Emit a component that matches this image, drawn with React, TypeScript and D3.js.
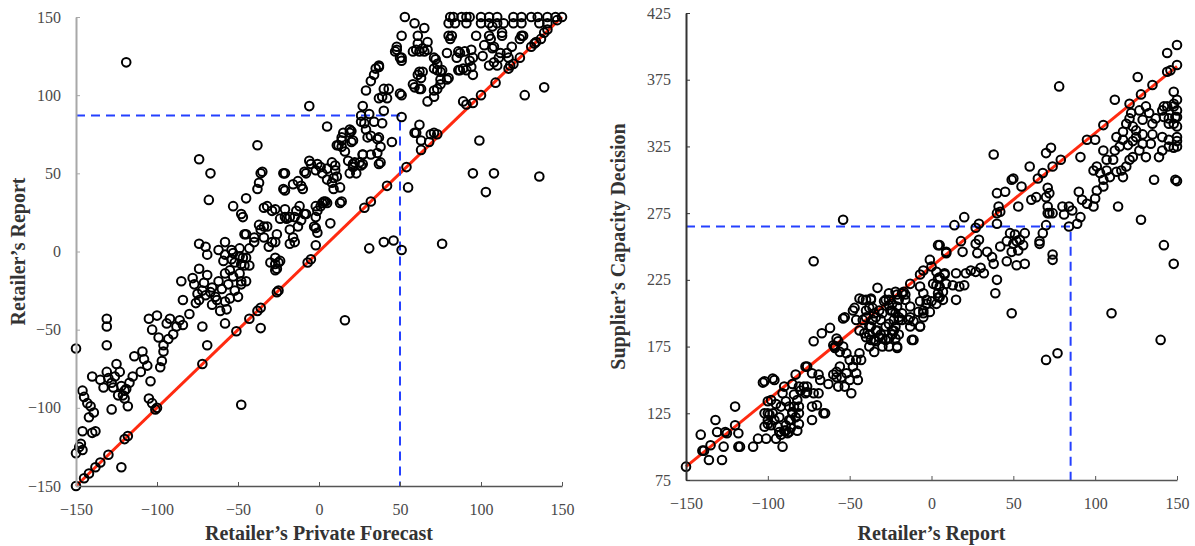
import React, { useEffect, useRef } from "react";
import * as d3 from "d3";

type Pt = [number, number];

// left panel: retailer's private forecast (x) vs retailer's report (y)
const forecastVsReport: Pt[] = [
  [-150, -62], [-150, -150], [-146, -89], [-145, -93], [-143, -97], [-146, -115], [-147, -123], [-146, -127],
  [-150, -129], [-148, -125], [-142, -106], [-140, -116], [-138, -115], [-141, -99], [-139, -103], [-140, -80],
  [-145, -145], [-142, -142], [-138, -138], [-135, -135], [-130, -130], [-120, -120], [-118, -118], [-101, -101],
  [-100, -100], [-72, -72], [-38, -38], [-36, -36], [-26, -26], [-43, -43], [-51, -51], [-25, -25], [-7, -7], [-5, -5],
  [-122, -138], [-131, -43], [-131, -48], [-131, -60],
  [-135, -82], [-131, -77], [-130, -81], [-128, -84], [-126, -80], [-125, -72], [-123, -77], [-122, -86], [-120, -89],
  [-120, -94], [-118, -99], [-117, -84], [-115, -80], [-128, -101], [-133, -87], [-127, -87], [-124, -92], [-121, -92],
  [-119, -88], [-114, -67], [-109, -64], [-108, -69], [-110, -77], [-106, -73], [-104, -83], [-105, -94], [-103, -97],
  [-105, -43], [-100, -41], [-103, -50], [-99, -55], [-96, -64], [-97, -70], [-98, -74], [-94, -46], [-92, -43],
  [-90, -53], [-88, -48], [-93, -56], [-96, -60], [-86, -44], [-84, -47],
  [-85, -19], [-84, -31], [-77, -21], [-74, -11], [-69, -15], [-72, -25], [-76, -33], [-80, -40], [-72, -48], [-69, -60],
  [-74, -31], [-70, -28], [-66, -23], [-62, -19], [-63, -31], [-58, -46], [-58, -14], [-56, -21], [-52, -25], [-48, -19],
  [-36, -49], [-48, -98], [-59, -6], [-54, -5], [-46, -9], [-58, -32], [-66, -34], [-78, -17], [-75, -27], [-71, -20],
  [-67, -26], [-64, -29], [-60, -24], [-61, -38], [-55, -30], [-57, -37], [-50, -29], [-45, -19], [-48, -21],
  [-49, -3], [-47, -4], [-45, -4], [-43, -9], [-55, -12], [-53, -16], [-49, -14], [-58, 6], [-54, 1], [-49, 2],
  [-27, -12], [-25, -7],
  [-119, 121], [-74, 59], [-67, 50], [-68, 33], [-38, 68], [-37, 44], [-36, 50], [-35, 51], [-38, 40], [-22, 50],
  [-22, 40], [-16, 43], [-53, 29], [-45, 34], [-48, 24], [-47, 22], [-45, 11], [-34, 28], [-29, 26], [-24, 21],
  [-20, 21], [-18, 14], [-74, 5], [-70, 3], [-69, -2], [-62, 1], [-58, -2], [-53, -1], [-52, -7], [-48, -8], [-43, 2],
  [-40, 9], [-36, 14], [-34, 9], [-31, 3], [-30, -7], [-27, -8], [-18, 5],
  [-13, 45], [-11, 42], [-10, 40], [-6, 58], [-9, 51], [-2, 52], [-1, 56], [2, 50], [5, 46], [8, 57], [10, 52], [11, 48],
  [8, 44], [9, 40], [13, 41], [11, 68], [14, 73], [20, 70], [19, 76], [14, 67], [30, 73], [37, 73], [38, 67], [32, 62],
  [27, 62], [25, 57], [21, 56], [19, 50], [38, 57],
  [28, 28], [32, 32], [42, 42], [54, 54], [63, 65], [68, 70], [73, 75],
  [40, 6], [31, 2], [46, 7], [51, 1], [76, 5], [55, 41], [99, 71], [127, 100], [139, 105], [95, 50], [108, 50],
  [136, 48], [103, 38], [16, -44],
  [-32, 29], [-27, 27], [-21, 22], [-18, 22], [-15, 22], [-14, 26], [-12, 29], [-9, 24], [-13, 16], [-2, 29], [-1, 26],
  [2, 31], [4, 32], [-3, 16], [7, 18], [13, 31], [-37, 17], [-34, 16], [-32, 16], [-46, 11], [-40, 6], [-29, 6],
  [-27, 6], [-26, 11], [-16, 9], [-15, 6], [-2, 4], [-27, -4], [-24, -6], [-26, -11],
  [-21, 50], [-21, 39], [-8, 50], [-5, 56], [1, 54], [5, 53], [18, 58], [21, 54], [26, 55], [37, 56], [23, 50], [27, 56],
  [-21, 27], [-11, 20], [-8, 24], [-2, 22], [1, 29], [5, 31], [-2, 15], [-1, 12], [14, 32], [3, 32],
  [-6, 93], [5, 80], [15, 76], [19, 78], [21, 71], [14, 71], [27, 93], [26, 87], [31, 88], [28, 82], [36, 63], [45, 70],
  [26, 83], [29, 78], [40, 90], [62, 81], [60, 76], [69, 75], [71, 76], [63, 71],
  [89, 96], [91, 94], [95, 95], [100, 100], [109, 108], [117, 117], [124, 124], [131, 131], [133, 133], [139, 140],
  [141, 142], [147, 148], [150, 150],
  [53, 150], [81, 150], [83, 150], [88, 150], [91, 150], [93, 150], [100, 150], [105, 150], [110, 150], [120, 150],
  [125, 150], [131, 150], [135, 150], [141, 150], [146, 150],
  [80, 146], [84, 146], [91, 146], [100, 146], [105, 146], [110, 146], [114, 146], [120, 146], [125, 146], [136, 146],
  [141, 146], [59, 146], [65, 143],
  [51, 138], [61, 138], [67, 134], [80, 138], [82, 138], [97, 138], [105, 138], [113, 138], [125, 138],
  [48, 131], [48, 129], [51, 124], [51, 122], [60, 129], [65, 128], [67, 129], [61, 113], [64, 115], [59, 105], [63, 104],
  [67, 96], [72, 123], [73, 116], [75, 110], [76, 116], [80, 111], [71, 103], [73, 104], [37, 119], [35, 117], [34, 113],
  [32, 109], [29, 103], [40, 104], [39, 99], [37, 98], [51, 100],
  [79, 127], [87, 127], [90, 128], [95, 124], [102, 132], [107, 130], [112, 127], [119, 131], [120, 120], [108, 121],
  [105, 119], [89, 117], [94, 118], [87, 116], [111, 124], [126, 138],
  [61, 133], [64, 130], [58, 128], [62, 128], [47, 128], [50, 124], [71, 124], [73, 120], [71, 117], [75, 115], [62, 115],
  [63, 111], [58, 107], [62, 104], [75, 107], [71, 99], [79, 110], [81, 136], [85, 124], [86, 128], [94, 129], [93, 122],
  [86, 116], [91, 116], [95, 113], [101, 125], [108, 131], [106, 136], [107, 144], [113, 140], [116, 127], [117, 124],
  [110, 119], [118, 119], [124, 136], [134, 134], [137, 136], [37, 118], [43, 104], [42, 98], [50, 101], [51, 86],
  [34, 83], [39, 82], [20, 77], [12, 68], [16, 64], [32, 74], [36, 72], [27, 62], [22, 57], [10, 55], [9, 47], [59, 76],
];

// right panel: retailer's report (x) vs supplier's capacity decision (y)
const reportVsCapacity: Pt[] = [
  [-150, 85], [-141, 109], [-140, 97], [-136, 90], [-135, 101], [-132, 120], [-131, 111], [-127, 100], [-128, 90],
  [-126, 111], [-120, 130], [-120, 116], [-118, 110], [-118, 100], [-117, 100], [-109, 100], [-106, 106], [-101, 106],
  [-103, 148], [-96, 150], [-100, 134], [-100, 125], [-100, 120], [-97, 125], [-98, 116], [-96, 120], [-94, 115],
  [-95, 106], [-91, 100], [-90, 145], [-91, 140], [-89, 134], [-87, 130], [-85, 126], [-86, 120], [-84, 139], [-82, 135],
  [-81, 130], [-83, 122], [-87, 111], [-89, 112], [-80, 142], [-78, 145], [-77, 140], [-76, 145], [-81, 117], [-82, 112],
  [-83, 154], [-77, 160], [-73, 155], [-69, 140], [-73, 120], [-70, 131], [-66, 125], [-72, 179], [-67, 185], [-62, 189],
  [-72, 239], [-63, 147], [-60, 154], [-58, 156], [-57, 145], [-49, 140], [-59, 175], [-58, 181], [-54, 196], [-48, 202],
  [-46, 195], [-42, 210], [-37, 210], [-33, 219],
  [-54, 175], [-52, 170], [-50, 165], [-48, 160], [-46, 155], [-45, 150], [-44, 170], [-43, 165], [-46, 165], [-50, 150],
  [-52, 155], [-56, 160], [-58, 152], [-55, 152], [-53, 145],
  [-40, 197], [-37, 190], [-34, 187], [-35, 180], [-31, 184], [-30, 175], [-26, 181], [-24, 187], [-22, 190], [-20, 195],
  [-18, 200], [-21, 205], [-25, 202], [-29, 209], [-26, 210], [-35, 171], [-38, 175], [-40, 182],
  [-22, 216], [-18, 215], [-16, 210], [-13, 197], [-11, 180], [-7, 209], [-5, 202], [-1, 201], [3, 207], [-5, 215],
  [4, 212], [7, 210], [5, 220], [1, 222], [4, 226], [8, 229], [-7, 220], [-18, 195], [-13, 190], [-21, 175], [-35, 200],
  [78, 370], [38, 319], [126, 377], [146, 382], [135, 371], [128, 364], [112, 360], [121, 357], [105, 341], [95, 330],
  [100, 330], [73, 324], [70, 320], [79, 315], [91, 317], [74, 310], [68, 305], [60, 310], [65, 301], [49, 300], [55, 295],
  [40, 290], [42, 276], [53, 280], [64, 287], [71, 294], [72, 290], [70, 287], [61, 285], [71, 280], [72, 275], [74, 275],
  [80, 280], [81, 274], [86, 277], [84, 280],
  [90, 291], [92, 285], [95, 282], [100, 286], [99, 280], [101, 292], [105, 300], [103, 305], [107, 307], [109, 302],
  [105, 295], [101, 310], [99, 307], [107, 315], [111, 315], [105, 322], [112, 322], [115, 325], [117, 330], [113, 332],
  [117, 336], [119, 342], [121, 346], [123, 340], [125, 337], [122, 350], [127, 352], [129, 345], [131, 355], [133, 350],
  [135, 342], [137, 346], [141, 352], [142, 347], [145, 342], [148, 355], [150, 347], [150, 340], [145, 330], [150, 329],
  [141, 322], [139, 317], [131, 317], [127, 322], [123, 317], [121, 315], [119, 310], [117, 302], [116, 307], [113, 306],
  [134, 327], [129, 327], [120, 326], [125, 332], [123, 329], [129, 334], [135, 334], [141, 332], [145, 325], [150, 332],
  [136, 300], [114, 280], [128, 270], [142, 251], [66, 252], [74, 244], [148, 237], [149, 300], [150, 299], [150, 325],
  [148, 324], [148, 366], [150, 360], [148, 357], [150, 352], [149, 347], [148, 342], [145, 346], [144, 355], [142, 355],
  [150, 401], [144, 395], [150, 386], [144, 381],
  [140, 180], [110, 200], [70, 165], [77, 170], [49, 200], [39, 215], [40, 225], [15, 210], [-12, 180], [-21, 174],
  [-22, 181], [-7, 190], [-5, 197], [-8, 201], [-3, 207], [0, 209], [5, 212], [7, 216], [9, 222], [13, 221], [17, 220],
  [20, 221], [15, 230], [21, 230], [24, 232], [27, 231], [30, 234], [32, 230], [38, 237], [46, 239], [52, 236], [57, 237],
  [74, 240],
  [20, 272], [14, 266], [27, 264], [29, 267], [40, 275], [41, 280], [45, 291], [50, 301], [5, 251], [9, 246], [18, 254],
  [19, 246], [27, 252], [29, 255], [28, 245], [34, 246], [37, 242], [42, 250], [46, 254], [48, 260], [51, 259], [50, 252],
  [52, 254], [54, 255], [56, 251], [57, 260], [53, 247], [49, 246], [66, 254], [68, 260], [70, 266], [71, 275], [91, 272],
  [89, 267], [84, 265], [40, 267],
  [-54, 270], [4, 251], [-1, 240], [-5, 232], [-7, 229], [0, 235], [3, 231], [5, 227], [8, 230], [9, 245], [3, 221],
  [4, 215], [-3, 210], [-13, 222], [-17, 216], [-21, 214], [-20, 210], [-16, 214], [-13, 205], [-14, 195], [-20, 197],
  [-24, 202], [-26, 206], [-30, 200], [-32, 202], [-34, 197], [-36, 195], [-31, 195], [-28, 190], [-26, 192], [-23, 187],
  [-20, 184], [-11, 194], [-5, 200], [-7, 190], [-26, 175], [-30, 181], [-34, 179], [-37, 180], [-38, 184], [-41, 185],
  [-44, 187], [-42, 195], [-38, 204],
  [-139, 97], [-125, 110], [-102, 149], [-97, 151], [-102, 125], [-99, 124], [-102, 115], [-100, 117], [-93, 122],
  [-92, 130], [-95, 132], [-98, 135], [-92, 109], [-90, 112], [-89, 116], [-87, 120], [-85, 125], [-84, 130], [-81, 125],
  [-86, 114], [-88, 110], [-93, 111], [-85, 147], [-81, 145], [-76, 141], [-76, 160], [-69, 154], [-68, 150], [-73, 130],
  [-65, 125], [-72, 140], [-60, 176], [-57, 179], [-56, 171], [-59, 174], [-53, 197], [-47, 204], [-44, 211], [-40, 210],
  [-37, 211], [-28, 210], [-40, 202], [-36, 204], [-38, 190], [-33, 187], [-32, 182], [-28, 180], [-24, 184], [-23, 195],
  [-22, 200], [-24, 207], [-26, 215],
];

const leftTicks = [-150, -100, -50, 0, 50, 100, 150];
const rightXTicks = [-150, -100, -50, 0, 50, 100, 150];
const rightYTicks = [75, 125, 175, 225, 275, 325, 375, 425];

// 45 degree reference lines and the dashed guides
const leftDiagonal: Pt[] = [[-150, -150], [150, 150]];
const rightDiagonal: Pt[] = [[-150, 85], [150, 385]];
const leftGuide: Pt = [50, 87];
const rightGuide: Pt = [85, 265];

const panels = [
  {
    points: forecastVsReport,
    xDomain: [-150, 150], xRange: [76, 562],
    yDomain: [-150, 150], yRange: [486, 17],
    xTicks: leftTicks, yTicks: leftTicks,
    diagonal: leftDiagonal, guide: leftGuide,
    xTitle: "Retailer’s Private Forecast", yTitle: "Retailer’s Report",
    yTitleX: 18, yAxisColor: "#a8a8a8", xAxisColor: "#555",
  },
  {
    points: reportVsCapacity,
    xDomain: [-150, 150], xRange: [686, 1177],
    yDomain: [75, 425], yRange: [480, 13],
    xTicks: rightXTicks, yTicks: rightYTicks,
    diagonal: rightDiagonal, guide: rightGuide,
    xTitle: "Retailer’s Report", yTitle: "Supplier’s Capacity Decision",
    yTitleX: 618, yAxisColor: "#333", xAxisColor: "#555",
  },
];

const serif = "'Liberation Serif', 'Times New Roman', serif";

export default function App() {
  const ref = useRef<SVGSVGElement>(null);

  useEffect(() => {
    const svg = d3.select(ref.current);
    svg.selectAll("*").remove();

    panels.forEach((p) => {
      const x = d3.scaleLinear().domain(p.xDomain).range(p.xRange);
      const y = d3.scaleLinear().domain(p.yDomain).range(p.yRange);
      const g = svg.append("g");

      const x0 = x(p.xDomain[0]);
      const y0 = y(p.yDomain[0]);

      // red reference line
      g.append("path")
        .attr("d", d3.line<Pt>().x(d => x(d[0])).y(d => y(d[1]))(p.diagonal))
        .attr("fill", "none")
        .attr("stroke", "#ff2a10")
        .attr("stroke-width", 3);

      // blue dashed guide
      g.append("path")
        .attr("d", `M${x0},${y(p.guide[1])}H${x(p.guide[0])}V${y0}`)
        .attr("fill", "none")
        .attr("stroke", "#2440ff")
        .attr("stroke-width", 2)
        .attr("stroke-dasharray", "9,6");

      g.append("g").selectAll("circle")
        .data(p.points)
        .join("circle")
        .attr("cx", d => x(d[0]))
        .attr("cy", d => y(d[1]))
        .attr("r", 4.3)
        .attr("fill", "none")
        .attr("stroke", "#000")
        .attr("stroke-width", 2);

      const xAxis = g.append("g")
        .attr("transform", `translate(0,${y0})`)
        .call(d3.axisBottom(x).tickValues(p.xTicks).tickSizeInner(-4).tickSizeOuter(0).tickPadding(18));
      const yAxis = g.append("g")
        .attr("transform", `translate(${x0},0)`)
        .call(d3.axisLeft(y).tickValues(p.yTicks).tickSizeInner(-4).tickSizeOuter(0).tickPadding(15));

      xAxis.select(".domain").attr("stroke", p.xAxisColor).attr("stroke-width", 1.5);
      yAxis.select(".domain").attr("stroke", p.yAxisColor).attr("stroke-width", 2);
      xAxis.selectAll(".tick line").attr("stroke", p.xAxisColor);
      yAxis.selectAll(".tick line").attr("stroke", p.yAxisColor);
      [xAxis, yAxis].forEach(a => {
        a.attr("font-family", serif).attr("font-size", 16);
        a.selectAll("text").style("font-family", serif).attr("fill", "#4a4a4a");
      });

      g.append("text")
        .attr("x", (p.xRange[0] + p.xRange[1]) / 2)
        .attr("y", 540)
        .attr("text-anchor", "middle")
        .style("font-family", serif)
        .attr("font-weight", "bold")
        .attr("font-size", 20)
        .attr("fill", "#333")
        .text(p.xTitle);

      g.append("text")
        .attr("transform", `translate(${p.yTitleX},${(p.yRange[0] + p.yRange[1]) / 2}) rotate(-90)`)
        .attr("dy", "0.35em")
        .attr("text-anchor", "middle")
        .style("font-family", serif)
        .attr("font-weight", "bold")
        .attr("font-size", 20)
        .attr("fill", "#333")
        .text(p.yTitle);
    });
  }, []);

  return (
    <svg
      ref={ref}
      width={1195}
      height={546}
      style={{ position: "absolute", left: 0, top: 0, background: "#fff" }}
    />
  );
}
